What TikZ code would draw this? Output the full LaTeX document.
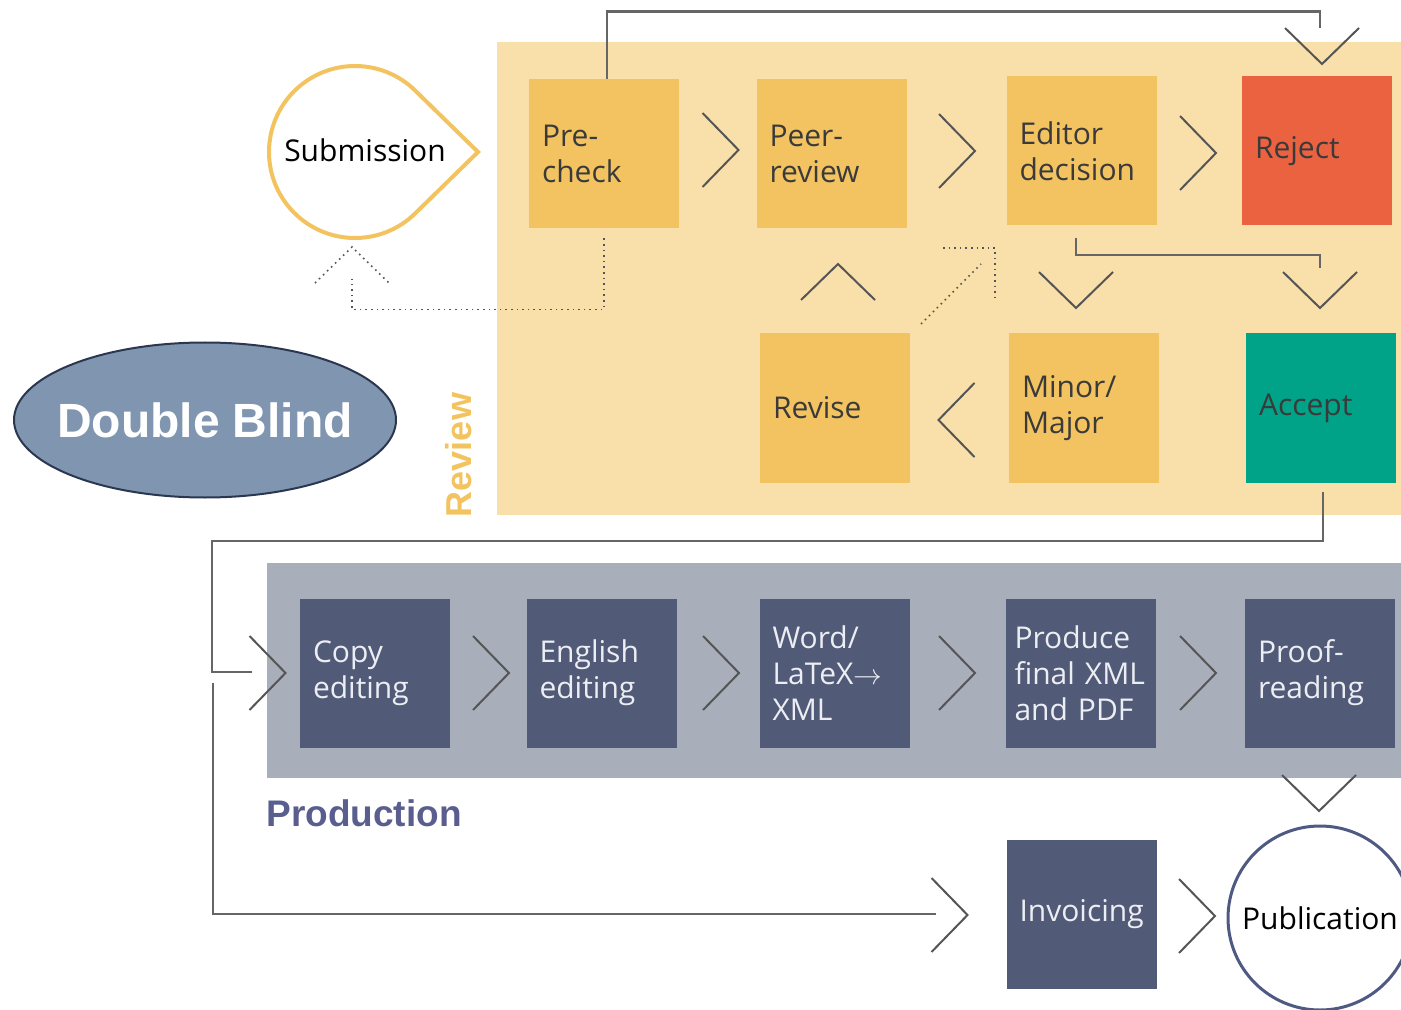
\documentclass[tikz,border=0pt]{standalone}
\usepackage{fontspec}
\setmainfont{Open Sans}
\newfontfamily\labfont{Liberation Sans}
\usetikzlibrary{shapes.geometric,calc}
\definecolor{reviewbg}{HTML}{F9E0AB}
\definecolor{prodbg}{HTML}{A9AEBB}
\definecolor{ybox}{HTML}{F2C360}
\definecolor{rejectc}{HTML}{EB6240}
\definecolor{acceptc}{HTML}{00A387}
\definecolor{dbox}{HTML}{515B78}
\definecolor{prodlab}{HTML}{5A5E8E}
\definecolor{revlab}{HTML}{F2C35E}
\definecolor{dbfill}{HTML}{8096B0}
\definecolor{dbline}{HTML}{2B3650}
\definecolor{connc}{HTML}{666666}
\definecolor{chevc}{HTML}{555555}
\definecolor{publine}{HTML}{4E5A82}
\definecolor{subline}{HTML}{F2C35E}
\definecolor{darktext}{HTML}{3A3A3A}
\definecolor{lighttext}{HTML}{EDEEF3}
\tikzset{
  basebox/.style={rectangle, inner xsep=6.5pt, inner ysep=0pt, text width=62pt,
    minimum height=74.5pt, align=left, font=\fontsize{15}{18}\selectfont},
  yellowbox/.style={basebox, fill=ybox, text=darktext},
  redbox/.style={basebox, fill=rejectc, text=darktext},
  greenbox/.style={basebox, fill=acceptc, text=darktext},
  darkbox/.style={basebox, fill=dbox, text=lighttext},
  conn/.style={draw=connc, line width=1.25pt},
  dots/.style={draw=chevc, line width=0.8pt, dotted},
  chevline/.style={draw=chevc, line width=1pt},
  chev/.pic={\draw[chevline] (-18,-37) -- (18,0) -- (-18,37);},
  dchev/.pic={\draw[dots] (-18,-37) -- (18,0) -- (-18,37);},
}
\begin{document}
\begin{tikzpicture}[x=0.5pt,y=-0.5pt]
\useasboundingbox (0,0) rectangle (1401,1010);
% backgrounds
\fill[reviewbg] (497,42) rectangle (1401,515);
\fill[prodbg] (267,563) rectangle (1401,778);

% labels
\node[rotate=90, inner sep=0pt, text=revlab, font=\labfont\bfseries\fontsize{18}{20}\selectfont] (revlabel) at (459,455) {Review};
\node[anchor=west, inner sep=0pt, text=prodlab, font=\labfont\bfseries\fontsize{18.5}{20}\selectfont] (prodlabel) at (266,813) {Production};

% double blind
\node[ellipse, draw=dbline, line width=1pt, fill=dbfill, minimum width=191pt, minimum height=77.5pt,
  inner xsep=-6.5pt, inner ysep=0pt,
  text=white, font=\labfont\bfseries\fontsize{24}{28}\selectfont] (db) at (205,420) {Double Blind};

% submission teardrop
\draw[draw=subline, line width=2pt] (478,152) -- ($(355,152)+(45.6:86)$) arc[start angle=45.6, end angle=314.4, radius=86] -- cycle;
\node[font=\fontsize{15}{18}\selectfont, text=black, inner sep=0pt] (sub) at (365,150) {Submission};

% review boxes
\node[yellowbox] (pre) at (604,153.5) {Pre-\\check};
\node[yellowbox] (peer) at (831.5,153.5) {Peer-\\review};
\node[yellowbox] (editor) at (1081.5,151) {Editor\\decision};
\node[redbox] (reject) at (1317,151) {Reject};
\node[yellowbox] (revise) at (835,408) {Revise};
\node[yellowbox] (minor) at (1084,408) {Minor/\\Major};
\node[greenbox] (accept) at (1321,408) {Accept};

% production boxes
\node[darkbox] (copy) at (375,673) {Copy\\editing};
\node[darkbox] (english) at (601.5,673) {English\\editing};
\node[darkbox] (word) at (834.5,673) {Word/\\LaTeX$\rightarrow$\\XML};
\node[darkbox, text width=66.5pt, inner xsep=4.25pt] (produce) at (1081,673) {Produce\\final XML\\and PDF};
\node[darkbox] (proof) at (1320,673) {Proof-\\reading};
\node[darkbox] (invoicing) at (1081.5,914.5) {Invoicing};

% publication
\node[circle, draw=publine, line width=1.5pt, minimum size=92pt, inner sep=0pt,
  font=\fontsize{15}{18}\selectfont, text=black] (pub) at (1320,918) {Publication};

% coordinates for free ends
\coordinate (rejin) at (1320,28);
\coordinate (accin) at (1320,268);
\coordinate (copyin) at (252,672);
\coordinate (invstart) at (213,683);
\coordinate (invin) at (936,914);
\coordinate (subin) at (352,279);

% connectors
\draw[conn] ([xshift=1.5pt]pre.north) -- ++(0,-67) -| (rejin);
\draw[conn] ([xshift=-2.75pt,yshift=-6pt]editor.south) -- ++(0,17) -| (accin);
\draw[conn] ([xshift=1pt,yshift=-4.5pt]accept.south) -- ++(0,49) -| (212,672) -- (copyin);
\draw[conn] (invstart) |- (invin);
\draw[dots] ([yshift=-5pt]pre.south) -- ++(0,71) -| (subin);
\draw[dots] (921,324) -- (981,264);
\draw[dots] (943,248) -| (995,300);

% chevrons
\pic at (720.5,150) {chev};
\pic at (957,151) {chev};
\pic at (1198,153) {chev};
\pic[rotate=180] at (956.5,420) {chev};
\pic[rotate=90] at (838,282) {chev};
\pic[rotate=-90] at (1076,290) {chev};
\pic[rotate=-90] at (1320,290) {chev};
\pic[rotate=-90] at (1322,46) {chev};
\pic at (267.5,673) {chev};
\pic at (491,673) {chev};
\pic at (721,673) {chev};
\pic at (957,673) {chev};
\pic at (1198,673) {chev};
\pic[rotate=-90] at (1319,793) {chev};
\pic at (949.5,915) {chev};
\pic at (1197,916) {chev};
\pic[rotate=90] at (352,265) {dchev};
\end{tikzpicture}
\end{document}
